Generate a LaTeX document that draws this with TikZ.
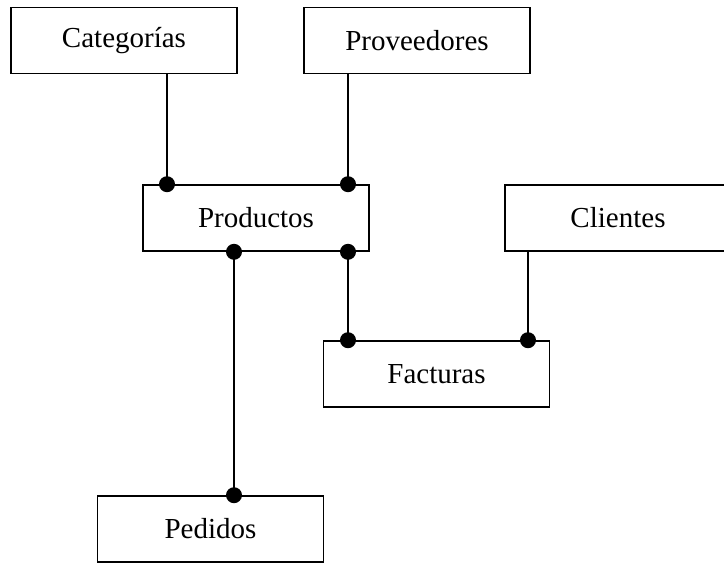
\documentclass[tikz,border=0pt]{standalone}
\usepackage{fontspec}
\setmainfont{Liberation Serif}
\begin{document}
\begin{tikzpicture}[x=1pt,y=-1pt,
  entity/.style={draw, line width=1.6pt, minimum width=226pt, minimum height=66pt, inner sep=0pt, font=\fontsize{29}{32}\selectfont},
  link/.style={line width=1.8pt},
  dot/.style={circle, fill=black, inner sep=0pt, minimum size=16pt}]
\useasboundingbox (0,0) rectangle (724,563);
\node[entity] (cat) at (124,40.5) {Categorías};
\node[entity] (prov) at (417,40.5) {Proveedores};
\node[entity] (prod) at (256,218) {Productos};
\node[entity] (cli) at (618,218) {Clientes};
\node[entity] (fac) at (436.5,374) {Facturas};
\node[entity] (ped) at (210.5,529) {Pedidos};
\coordinate (xa) at (167,0);
\coordinate (xb) at (348,0);
\coordinate (xc) at (234,0);
\coordinate (xd) at (528,0);
\draw[link] (cat.south -| xa) -- (prod.north -| xa) node[dot]{};
\draw[link] (prov.south -| xb) -- (prod.north -| xb) node[dot]{};
\draw[link] (prod.south -| xc) node[dot]{} -- (ped.north -| xc) node[dot]{};
\draw[link] (prod.south -| xb) node[dot]{} -- (fac.north -| xb) node[dot]{};
\draw[link] (cli.south -| xd) -- (fac.north -| xd) node[dot]{};
\end{tikzpicture}
\end{document}
